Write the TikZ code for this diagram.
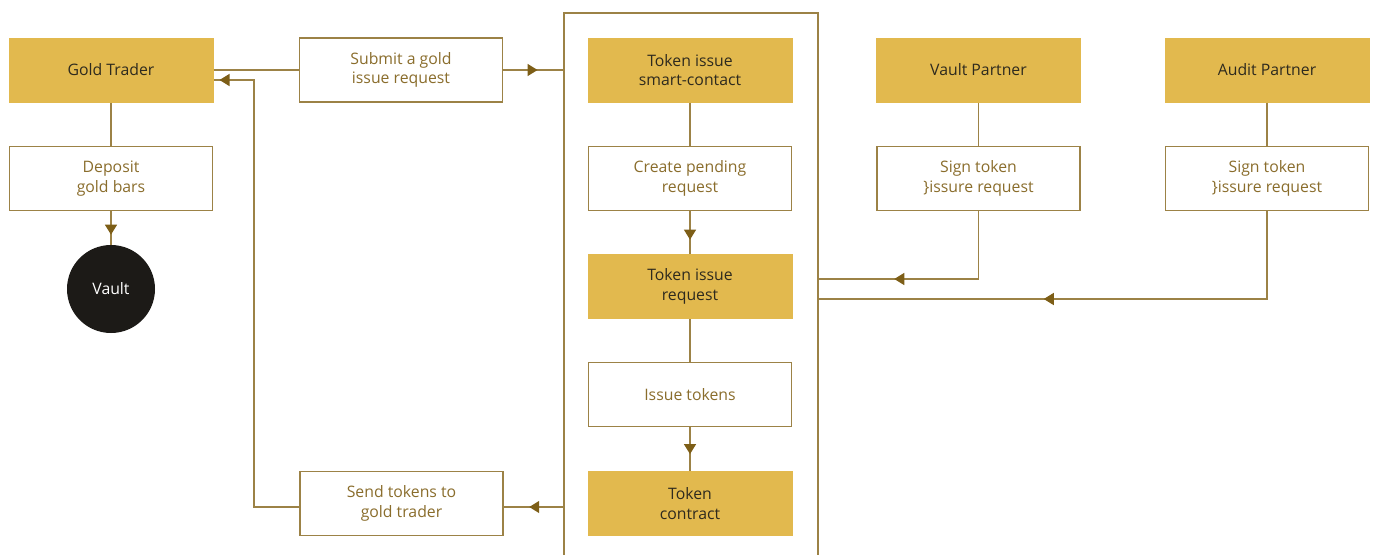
\documentclass[tikz,border=0pt]{standalone}
\usepackage{fontspec}
\setmainfont{Open Sans}
\usetikzlibrary{arrows.meta,decorations.markings,calc}
\definecolor{goldfill}{HTML}{E2B94E}
\definecolor{linec}{HTML}{9C8246}
\definecolor{arrowc}{HTML}{7D5E17}
\definecolor{darktext}{HTML}{2E2A1E}
\definecolor{browntext}{HTML}{8A6D2C}
\definecolor{vaultc}{HTML}{1C1A17}
\begin{document}
\begin{tikzpicture}[x=1pt,y=1pt,
  every node/.style={font=\fontsize{15.8}{19.5}\selectfont, align=center, inner sep=0pt, outer sep=0pt},
  lowtext/.style={execute at begin node={\vspace*{3.5pt}}},
  goldbox/.style={fill=goldfill, text=darktext, minimum width=205, minimum height=65, lowtext},
  whitebox/.style={draw=linec, line width=1.4pt, fill=white, text=browntext, minimum width=203, minimum height=64, lowtext},
  conn/.style={draw=linec, line width=1.4pt},
  midarrow/.style={postaction={decorate}, decoration={markings, mark=at position #1 with {\arrow[arrowc]{Triangle[width=12pt,length=10pt]}}}}
]
\useasboundingbox (0,0) rectangle (1375,-554);

% container
\node[draw=linec, line width=1.4pt, anchor=north west, minimum width=254, minimum height=560] (big) at (564,-13) {};

% left column
\node[goldbox] (gt) at (111,-70) {Gold Trader};
\node[whitebox] (dep) at (111,-178.5) {Deposit\\gold bars};
\node[circle, fill=vaultc, text=white, minimum size=88] (vault) at (111,-289) {Vault};

\node[whitebox] (sub) at (401,-70) {Submit a gold\\issue request};
\node[whitebox] (send) at (401.5,-503.5) {Send tokens to\\gold trader};

% center column
\node[goldbox] (tis) at (690,-70) {Token issue\\smart-contact};
\node[whitebox] (cpr) at (690,-178.5) {Create pending\\request};
\node[goldbox] (tir) at (690,-286.5) {Token issue\\request};
\node[whitebox] (itk) at (690,-394.5) {Issue tokens};
\node[goldbox] (tc) at (690,-503.5) {Token\\contract};

% right columns
\node[goldbox] (vp) at (978.5,-70) {Vault Partner};
\node[whitebox] (vs) at (978.5,-178.5) {Sign token\\\}issure request};
\node[goldbox] (ap) at (1267,-70) {Audit Partner};
\node[whitebox] (as) at (1267,-178.5) {Sign token\\\}issure request};

\coordinate (vj) at (978.5,-279);
\coordinate (aj) at (1267,-299);

% connectors
\draw[conn] (gt.south) -- (dep.north);
\draw[conn, midarrow=0.7] (dep.south) -- (vault.north);
\draw[conn] (gt.east) -- (sub.west);
\draw[conn, midarrow=0.57] (sub.east) -- (sub.east -| big.west);
\draw[conn, midarrow=0.57] ([yshift=-3.5]send.east -| big.west) -- ([yshift=-3.5]send.east);
\draw[conn, midarrow=-6pt] ([yshift=-3.5]send.west) -- ++(-46,0) |- ([yshift=-10]gt.east);

\draw[conn] (tis.south) -- (cpr.north);
\draw[conn, midarrow=0.67] (cpr.south) -- (tir.north);
\draw[conn] (tir.south) -- (itk.north);
\draw[conn, midarrow=0.62] (itk.south) -- (tc.north);

\draw[conn] (vp.south) -- (vs.north);
\draw[conn] (ap.south) -- (as.north);
\draw[conn, midarrow=0.667] (vs.south) -- (vj) -- (vj -| big.east);
\draw[conn, midarrow=0.58] (as.south) -- (aj) -- (aj -| big.east);
\end{tikzpicture}
\end{document}
